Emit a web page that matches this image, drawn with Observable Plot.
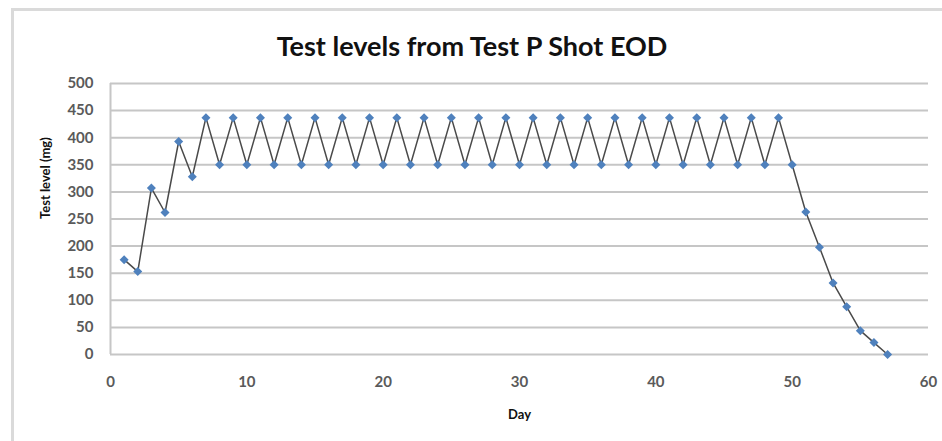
<!DOCTYPE html>
<html><head><meta charset="utf-8">
<script src="https://cdn.jsdelivr.net/npm/d3@7"></script>
<script src="https://cdn.jsdelivr.net/npm/@observablehq/plot@0.6"></script>
<style>
body{margin:0;background:#fff;}
#wrap{position:relative;width:942px;height:441px;overflow:hidden;}
#frame{position:absolute;left:11px;top:8px;right:-10px;bottom:-10px;border-top:3px solid #dadada;border-left:3px solid #dadada;pointer-events:none;}
#title{position:absolute;left:0;width:944px;top:29px;text-align:center;font-family:Lato,"Open Sans",sans-serif;font-weight:bold;font-size:27px;color:#111;}
#chart{position:absolute;left:0;top:0;}
</style></head><body>
<div id="wrap"><div id="chart"></div><div id="frame"></div><div id="title"></div></div>
<script>
const title = "Test levels from Test P Shot EOD";
const xLabel = "Day";
const yLabel = "Test level (mg)";
const days = [1,2,3,4,5,6,7,8,9,10,11,12,13,14,15,16,17,18,19,20,21,22,23,24,25,26,27,28,29,30,31,32,33,34,35,36,37,38,39,40,41,42,43,44,45,46,47,48,49,50,51,52,53,54,55,56,57];
const levels = [175,153,307,262,393,328,
  437,350,437,350,437,350,437,350,437,350,
  437,350,437,350,437,350,437,350,437,350,
  437,350,437,350,437,350,437,350,437,350,
  437,350,437,350,437,350,437,350,437,350,
  437,350,437,350,
  263,198,132,88,44,22,0];
const xTicks = [0,10,20,30,40,50,60];
const yTicks = [0,50,100,150,200,250,300,350,400,450,500];

document.getElementById("title").textContent = title;
const data = days.map((d,i)=>({day:d, level:levels[i]}));
const font = "Lato, 'Open Sans', sans-serif";

const chart = Plot.plot({
  width: 942, height: 441,
  marginLeft: 110, marginRight: 14, marginTop: 83, marginBottom: 87,
  style: {background: "transparent", fontFamily: font},
  x: {domain: [0, 60]},
  y: {domain: [0, 500]},
  marks: [
    Plot.ruleY(yTicks, {stroke: "#c6c6c6", strokeWidth: 2}),
    Plot.ruleX([0], {stroke: "#c6c6c6", strokeWidth: 2}),
    Plot.axisY({ticks: yTicks, tickSize: 0, tickPadding: 17, fontSize: 15, fontWeight: "bold", fill: "#5a5a5a", label: null}),
    Plot.axisX({ticks: xTicks, tickSize: 0, tickPadding: 22, fontSize: 15, fontWeight: "bold", fill: "#5a5a5a", label: null}),
    Plot.text([yLabel], {frameAnchor: "left", dx: -65, rotate: -90, fontSize: 13, fontWeight: "bold", fill: "#111"}),
    Plot.text([xLabel], {frameAnchor: "bottom", dy: 64, fontSize: 13, fontWeight: "bold", fill: "#111"}),
    Plot.line(data, {x: "day", y: "level", stroke: "#4a4a4a", strokeWidth: 1.5}),
    Plot.dot(data, {x: "day", y: "level", symbol: "square", rotate: 45, r: 3.6, fill: "#4f81bd", stroke: "none"})
  ]
});
document.getElementById("chart").appendChild(chart);
</script>
</body></html>
